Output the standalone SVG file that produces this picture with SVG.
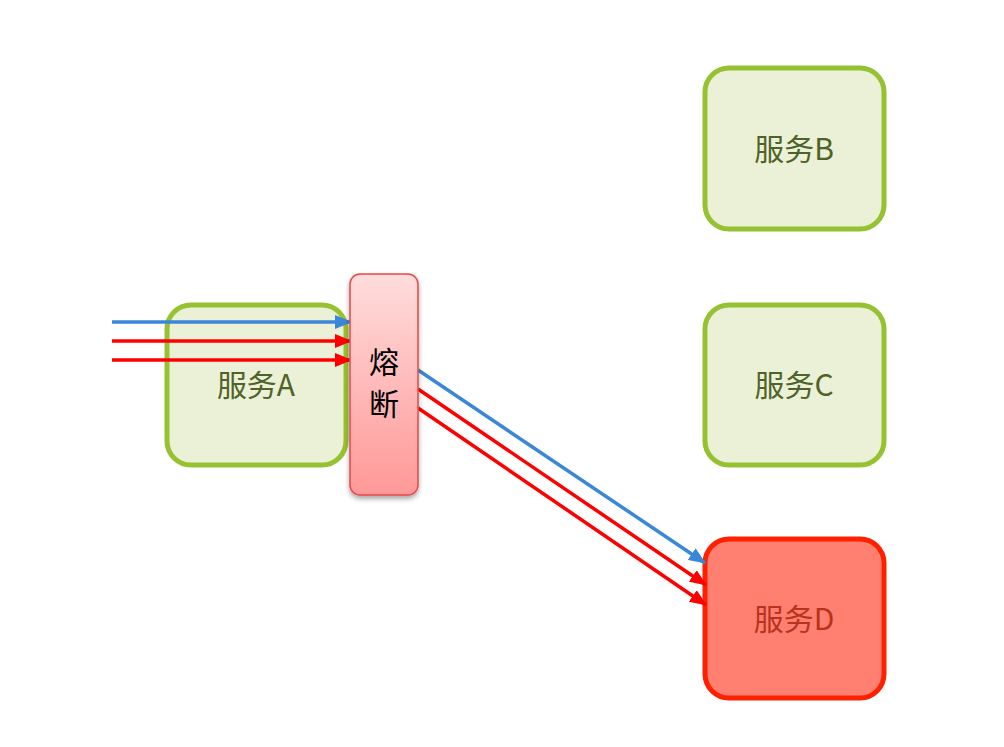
<svg xmlns="http://www.w3.org/2000/svg" width="1004" height="747" viewBox="0 0 1004 747">
<style>
.svc{fill:#ebf1d7;stroke:#96c231;stroke-width:5}
.lbl{font-family:"Noto Sans CJK SC","Noto Sans",sans-serif;font-size:30px;text-anchor:middle;fill:#4f6228}
.blue{stroke:#3a86d8;stroke-width:3.5;fill:none}
.red{stroke:#ff0000;stroke-width:3.5;fill:none}
</style>
<defs>
<linearGradient id="fg" x1="0" y1="0" x2="0" y2="1">
<stop offset="0" stop-color="#ffdcdc"/>
<stop offset="1" stop-color="#ff9898"/>
</linearGradient>
<filter id="sh" x="-30%" y="-10%" width="160%" height="130%">
<feDropShadow dx="0" dy="3" stdDeviation="2.5" flood-color="#000" flood-opacity="0.35"/>
</filter>
<marker id="ab" markerWidth="17" markerHeight="14" refX="16" refY="7" orient="auto" markerUnits="userSpaceOnUse">
<path d="M0,0 L17,7 L0,14 Z" fill="#3a86d8"/>
</marker>
<marker id="ar" markerWidth="17" markerHeight="14" refX="16" refY="7" orient="auto" markerUnits="userSpaceOnUse">
<path d="M0,0 L17,7 L0,14 Z" fill="#ff0000"/>
</marker>
</defs>
<rect width="1004" height="747" fill="#ffffff"/>
<g id="serviceA">
<rect class="svc" x="167" y="305" width="179" height="160" rx="24"/>
<text class="lbl" x="256" y="396">服务A</text>
</g>
<g id="serviceB">
<rect class="svc" x="705" y="68" width="179" height="161" rx="24"/>
<text class="lbl" x="794" y="160">服务B</text>
</g>
<g id="serviceC">
<rect class="svc" x="705" y="305" width="179" height="160" rx="24"/>
<text class="lbl" x="794" y="396">服务C</text>
</g>
<g id="serviceD">
<rect x="705" y="539" width="179" height="159" rx="24" fill="#ff8070" stroke="#ff2000" stroke-width="5"/>
<text class="lbl" x="794" y="630" style="fill:#b8321c">服务D</text>
</g>
<g id="connectors">
<line class="blue" x1="112" y1="322" x2="351" y2="322" marker-end="url(#ab)"/>
<line class="red" x1="112" y1="341" x2="351" y2="341" marker-end="url(#ar)"/>
<line class="red" x1="112" y1="360" x2="351" y2="360" marker-end="url(#ar)"/>
<line class="blue" x1="418" y1="370" x2="705" y2="563" marker-end="url(#ab)"/>
<line class="red" x1="418" y1="389" x2="706" y2="585" marker-end="url(#ar)"/>
<line class="red" x1="418" y1="408" x2="706" y2="605" marker-end="url(#ar)"/>
</g>
<g id="fuse">
<rect x="350" y="274" width="68" height="221" rx="10" fill="url(#fg)" stroke="#e84848" stroke-width="1.5" filter="url(#sh)"/>
<text x="384" y="373" font-family="Noto Sans CJK SC,sans-serif" font-size="30" text-anchor="middle" fill="#000">熔</text>
<text x="384" y="415" font-family="Noto Sans CJK SC,sans-serif" font-size="30" text-anchor="middle" fill="#000">断</text>
</g>
</svg>
